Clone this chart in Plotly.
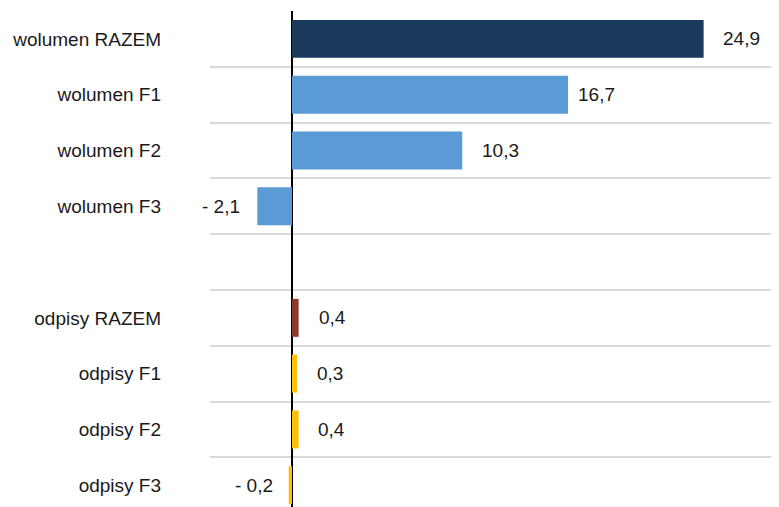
import plotly.graph_objects as go

categories = ["wolumen RAZEM", "wolumen F1", "wolumen F2", "wolumen F3", " ",
              "odpisy RAZEM", "odpisy F1", "odpisy F2", "odpisy F3"]
values = [24.9, 16.7, 10.3, -2.1, None, 0.4, 0.3, 0.4, -0.2]
colors = ["#1a3a5c", "#5b9bd5", "#5b9bd5", "#5b9bd5", "#ffffff",
          "#8b3a2f", "#ffc000", "#ffc000", "#ffc000"]
label_shift = [17, 8, 18, -15, 0, 18, 18, 17, -14]


def fmt(v):
    s = f"{abs(v):.1f}".replace(".", ",")
    return "- " + s if v < 0 else s


fig = go.Figure(go.Bar(
    x=values, y=categories, orientation="h",
    marker=dict(color=colors, line=dict(width=0)),
    hoverinfo="skip",
))

for cat, v, dx in zip(categories, values, label_shift):
    if v is None:
        continue
    fig.add_annotation(x=v, y=cat, text=fmt(v), showarrow=False,
                       xanchor="left" if v >= 0 else "right", xshift=dx,
                       font=dict(size=19, color="#1a1a1a"))

# page body has an 8px margin, so the figure is shifted up/left to compensate
fig.update_layout(
    width=771, height=499,
    margin=dict(l=202, r=0, t=3, b=0),
    paper_bgcolor="white", plot_bgcolor="white",
    bargap=0.32, showlegend=False,
    font=dict(family="Liberation Sans, Arial, sans-serif", size=19, color="#1a1a1a"),
    xaxis=dict(range=[-4.96, 29.46], showgrid=False, showticklabels=False,
               zeroline=True, zerolinecolor="black", zerolinewidth=2, fixedrange=True),
    yaxis=dict(categoryorder="array", categoryarray=categories,
               range=[8.39, -0.5], tickson="boundaries", showgrid=True,
               gridcolor="#d9d9d9", gridwidth=1.5, ticks="", ticklabelstandoff=48,
               zeroline=False, showline=False, fixedrange=True),
)

fig.write_html("out.html")
